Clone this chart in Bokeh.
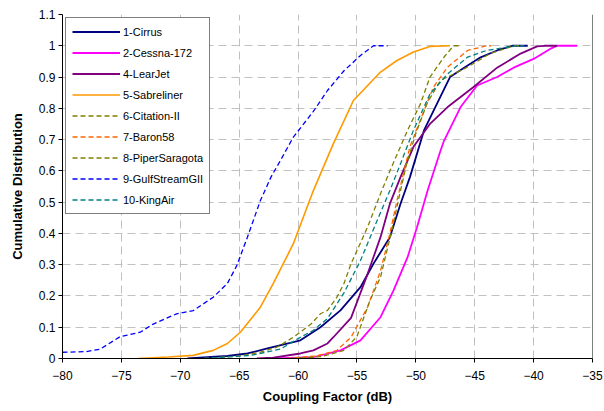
from bokeh.plotting import figure
from bokeh.models import Range1d, FixedTicker, NumeralTickFormatter, Span
from bokeh.embed import file_html
from bokeh.resources import INLINE

# Cumulative distributions of the coupling factor, per aircraft (dB, CDF)
cirrus_db = [-69.4, -66, -64.3, -62.6, -60.4, -59.8, -58.1, -56.4, -54.7, -53.6, -52.2, -51.3, -50.5, -49.3, -48.2, -47.1, -45.9, -44.5, -43.1, -41.8, -40.5]
cirrus_cdf = [0, 0.008, 0.016, 0.032, 0.052, 0.058, 0.1, 0.154, 0.228, 0.303, 0.388, 0.495, 0.58, 0.73, 0.815, 0.9, 0.93, 0.963, 0.985, 1.0, 1.0]

cessna_db = [-62, -58.7, -56.4, -54.7, -53.0, -51.9, -50.7, -49.9, -49.0, -47.9, -47.6, -46.2, -44.8, -43.1, -41.7, -40.0, -38.6, -38.0, -36.3]
cessna_cdf = [0, 0.004, 0.026, 0.058, 0.132, 0.217, 0.324, 0.42, 0.537, 0.665, 0.697, 0.804, 0.873, 0.9, 0.93, 0.958, 0.99, 1.0, 1.0]

learjet_db = [-63.5, -62.1, -59.8, -58.7, -57.5, -57.0, -55.5, -54.1, -53.0, -52.2, -51.3, -50.2, -48.8, -47.3, -45.1, -43.1, -41.1, -39.7, -39.1, -38.0]
learjet_cdf = [0, 0.003, 0.016, 0.026, 0.048, 0.068, 0.13, 0.27, 0.388, 0.495, 0.58, 0.677, 0.75, 0.804, 0.868, 0.93, 0.975, 0.998, 1.0, 1.0]

sabre_db = [-73.6, -71, -68.9, -67.2, -66.0, -64.9, -63.2, -62.1, -60.4, -58.7, -57.0, -55.3, -53.0, -51.6, -50.2, -48.8, -47.1]
sabre_cdf = [0, 0.005, 0.01, 0.026, 0.048, 0.084, 0.164, 0.24, 0.367, 0.537, 0.687, 0.825, 0.916, 0.953, 0.98, 0.998, 1.0]

citation_db = [-68, -65, -63.2, -61.8, -60.4, -58.9, -58.1, -57.5, -56.7, -56.1, -55.5, -54.1, -53.0, -52.2, -50.7, -49.6, -48.8, -47.6, -46.8, -46.3]
citation_cdf = [0, 0.008, 0.02, 0.036, 0.068, 0.11, 0.143, 0.154, 0.196, 0.24, 0.303, 0.42, 0.527, 0.6, 0.73, 0.815, 0.9, 0.964, 1.0, 1.0]

baron_db = [-61, -58.5, -56.7, -55.5, -54.1, -53.0, -52.2, -51.6, -51.0, -50.5, -49.3, -48.5, -47.3, -45.6, -44.0, -43.6]
baron_cdf = [0, 0.008, 0.026, 0.068, 0.164, 0.28, 0.4, 0.505, 0.6, 0.677, 0.793, 0.868, 0.932, 0.985, 1.0, 1.0]

piper_db = [-60.5, -58, -56.1, -55.0, -53.9, -53.0, -52.1, -51.4, -50.8, -50.0, -49.0, -47.9, -45.6, -43.7, -41.7, -41.2]
piper_cdf = [0, 0.006, 0.026, 0.07, 0.185, 0.26, 0.4, 0.52, 0.62, 0.72, 0.82, 0.889, 0.932, 0.975, 1.0, 1.0]

gulf_db = [-80, -78, -76.8, -75.1, -73.4, -72.3, -70.3, -68.9, -67.2, -66.0, -65.2, -64.3, -63.2, -62.3, -61.5, -60.4, -58.7, -57.5, -56.1, -54.7, -53.6, -52.4]
gulf_cdf = [0.02, 0.022, 0.03, 0.07, 0.084, 0.11, 0.143, 0.153, 0.196, 0.24, 0.297, 0.388, 0.505, 0.58, 0.633, 0.708, 0.79, 0.857, 0.92, 0.969, 1.0, 1.0]

kingair_db = [-68, -64, -61.5, -59.8, -58.7, -57.5, -56.1, -54.7, -53.3, -52.2, -51.3, -50.2, -48.8, -47.3, -45.6, -44.0, -41.4, -40.8]
kingair_cdf = [0, 0.01, 0.03, 0.068, 0.09, 0.128, 0.21, 0.313, 0.44, 0.537, 0.623, 0.73, 0.846, 0.91, 0.964, 0.985, 1.0, 1.0]

x_ticks = [-80, -75, -70, -65, -60, -55, -50, -45, -40, -35]
y_ticks = [0, 0.1, 0.2, 0.3, 0.4, 0.5, 0.6, 0.7, 0.8, 0.9, 1.0, 1.1]

FONT = "Liberation Sans"

p = figure(width=604, height=411, output_backend="svg", toolbar_location=None,
           x_range=Range1d(-80, -35), y_range=Range1d(0, 1.1),
           min_border_left=62, min_border_right=12, min_border_top=14, min_border_bottom=53,
           background_fill_color="white", border_fill_color="white")
p.outline_line_color = None

series = [
    (cirrus_db, cirrus_cdf, "1-Cirrus", "#000080", "solid", 1.8),
    (cessna_db, cessna_cdf, "2-Cessna-172", "#FF00FF", "solid", 1.8),
    (learjet_db, learjet_cdf, "4-LearJet", "#800080", "solid", 1.8),
    (sabre_db, sabre_cdf, "5-Sabreliner", "#FF9900", "solid", 1.6),
    (citation_db, citation_cdf, "6-Citation-II", "#808000", "5 3", 1.3),
    (baron_db, baron_cdf, "7-Baron58", "#FF6600", "5 3", 1.3),
    (piper_db, piper_cdf, "8-PiperSaragota", "#808000", "5 3", 1.3),
    (gulf_db, gulf_cdf, "9-GulfStreamGII", "#0000FF", "5 3", 1.3),
    (kingair_db, kingair_cdf, "10-KingAir", "#008080", "5 3", 1.3),
]
for xs, ys, name, color, dash, w in series:
    p.line(xs, ys, line_color=color, line_dash=dash, line_width=w, legend_label=name)

# grid
for g in (p.xgrid, p.ygrid):
    g.grid_line_color = "#c0c0c0"
    g.grid_line_dash = "8 5"
    g.grid_line_width = 1
p.xgrid.ticker = FixedTicker(ticks=x_ticks)
p.ygrid.ticker = FixedTicker(ticks=y_ticks)

# right-hand plot border
p.add_layout(Span(location=-35, dimension="height", line_color="black", line_width=1))

# axes
p.xaxis.ticker = FixedTicker(ticks=x_ticks)
p.yaxis.ticker = FixedTicker(ticks=y_ticks)
p.yaxis.formatter = NumeralTickFormatter(format="0.[0]")
p.xaxis.axis_label = "Coupling Factor (dB)"
p.yaxis.axis_label = "Cumulative Distribution"
for ax in (p.xaxis, p.yaxis):
    ax.axis_line_color = "black"
    ax.axis_line_width = 1
    ax.major_tick_line_color = "black"
    ax.major_tick_in = 0
    ax.major_tick_out = 4
    ax.minor_tick_line_color = None
    ax.major_label_text_font = FONT
    ax.major_label_text_font_size = "12px"
    ax.major_label_text_color = "black"
    ax.axis_label_text_font = FONT
    ax.axis_label_text_font_size = "13px"
    ax.axis_label_text_font_style = "bold"
    ax.axis_label_text_color = "black"
p.xaxis.major_label_standoff = 8
p.xaxis.axis_label_standoff = 6
p.yaxis.major_label_standoff = 3
p.yaxis.axis_label_standoff = 11

# legend
lg = p.legend[0]
lg.location = "top_left"
lg.margin = 3
lg.padding = 6
lg.spacing = 6
lg.glyph_width = 48
lg.glyph_height = 15
lg.label_height = 15
lg.label_standoff = 3
lg.label_text_font = FONT
lg.label_text_font_size = "11px"
lg.label_text_color = "black"
lg.border_line_color = "black"
lg.border_line_width = 1
lg.background_fill_color = "white"
lg.background_fill_alpha = 1.0

open("out.html", "w").write(file_html(p, INLINE))
